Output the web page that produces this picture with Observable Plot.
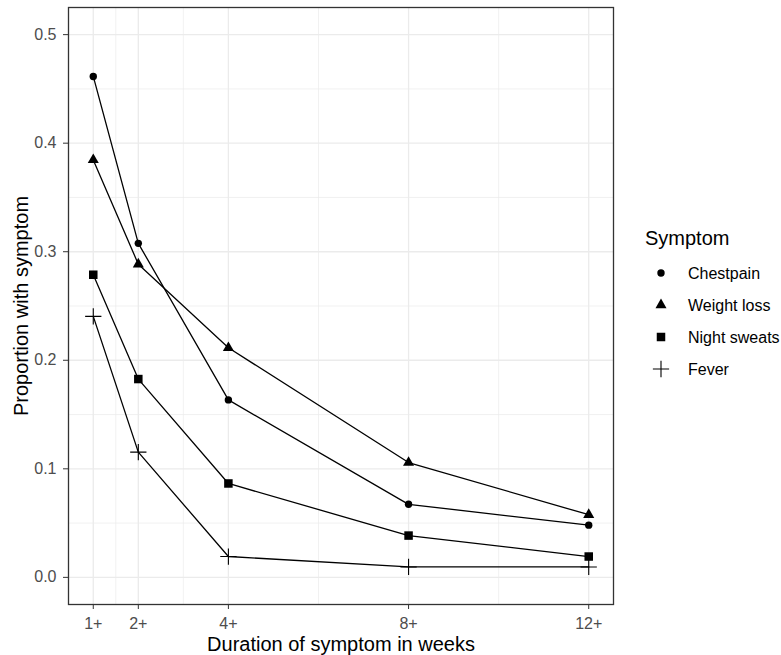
<!DOCTYPE html>
<html>
<head>
<meta charset="utf-8">
<script src="https://cdn.jsdelivr.net/npm/d3@7"></script>
<script src="https://cdn.jsdelivr.net/npm/@observablehq/plot@0.6"></script>
<style>
  html, body { margin: 0; padding: 0; background: #fff; }
  body { width: 781px; height: 655px; overflow: hidden; font-family: "Liberation Sans", Arial, sans-serif; }
  #wrap { position: relative; width: 781px; height: 655px; }
  #chart { position: absolute; left: 0; top: 0; }
  #legend { position: absolute; left: 0; top: 0; width: 781px; height: 655px; pointer-events: none; }
</style>
</head>
<body>
<div id="wrap">
  <div id="chart"></div>
  <div id="legend"></div>
</div>
<script>
// ---- data ----
const weeks = [1, 2, 4, 8, 12];
const weekLabels = ["1+", "2+", "4+", "8+", "12+"];
const symptoms = ["Chestpain", "Weight loss", "Night sweats", "Fever"];
const chestpain   = [0.4615, 0.3077, 0.1635, 0.0673, 0.0481];
const weightLoss  = [0.3846, 0.2885, 0.2115, 0.1058, 0.0577];
const nightSweats = [0.2788, 0.1827, 0.0865, 0.0385, 0.0192];
const fever       = [0.2404, 0.1154, 0.0192, 0.0096, 0.0096];
const yTicks = [0, 0.1, 0.2, 0.3, 0.4, 0.5];
const yMinor = [0.05, 0.15, 0.25, 0.35, 0.45];
const xMinor = [1.5, 3, 6, 10];

const seriesValues = [chestpain, weightLoss, nightSweats, fever];
const rows = [];
symptoms.forEach((s, i) => weeks.forEach((w, j) => rows.push({symptom: s, week: w, value: seriesValues[i][j]})));
const bySym = s => rows.filter(d => d.symptom === s);

const font = '"Liberation Sans", Arial, sans-serif';
const tickFont = 16;
const titleFont = 20;

const plot = Plot.plot({
  width: 625,
  height: 655,
  marginLeft: 68,
  marginRight: 12,
  marginTop: 7,
  marginBottom: 51,
  style: {fontFamily: font, fontSize: tickFont + "px", background: "#fff"},
  x: {type: "linear", domain: [0.45, 12.55]},
  y: {domain: [-0.025, 0.525]},
  marks: [
    Plot.ruleX(xMinor, {stroke: "#EBEBEB", strokeWidth: 0.7}),
    Plot.ruleY(yMinor, {stroke: "#EBEBEB", strokeWidth: 0.7}),
    Plot.ruleX(weeks, {stroke: "#EBEBEB", strokeWidth: 1.3}),
    Plot.ruleY(yTicks, {stroke: "#EBEBEB", strokeWidth: 1.3}),
    Plot.line(rows, {x: "week", y: "value", z: "symptom", stroke: "black", strokeWidth: 1.3}),
    Plot.dot(bySym("Chestpain"), {x: "week", y: "value", symbol: "circle", r: 3.7, fill: "black", stroke: "none"}),
    Plot.dot(bySym("Weight loss"), {x: "week", y: "value", symbol: "triangle", r: 4.1, fill: "black", stroke: "none"}),
    Plot.dot(bySym("Night sweats"), {x: "week", y: "value", symbol: "square", r: 4.8, fill: "black", stroke: "none"}),
    Plot.dot(bySym("Fever"), {x: "week", y: "value", symbol: "plus", r: 5.3, fill: "none", stroke: "black", strokeWidth: 1.1}),
    Plot.frame({stroke: "#333333", strokeWidth: 1.3}),
    Plot.axisX({
      ticks: weeks,
      tickFormat: d => weekLabels[weeks.indexOf(d)],
      tickSize: 5,
      tickPadding: 8,
      fontSize: tickFont,
      stroke: "#333333",
      fill: "#4D4D4D",
      label: "Duration of symptom in weeks",
      labelAnchor: "center",
      labelArrow: "none",
      labelOffset: 46
    }),
    Plot.axisY({
      ticks: yTicks,
      tickFormat: d3.format(".1f"),
      tickSize: 5,
      tickPadding: 7,
      fontSize: tickFont,
      stroke: "#333333",
      fill: "#4D4D4D",
      label: "Proportion with symptom",
      labelAnchor: "center",
      labelArrow: "none",
      labelOffset: 55
    })
  ]
});
document.getElementById("chart").appendChild(plot);

// style axis labels like ggplot titles
d3.select(plot).selectAll('g[aria-label="x-axis label"], g[aria-label="y-axis label"]')
  .attr("fill", "black").attr("font-size", titleFont);
d3.select(plot).selectAll('g[aria-label="x-axis label"] text, g[aria-label="y-axis label"] text')
  .attr("fill", "black").style("font-size", titleFont + "px");

// ---- legend ----
const legendShapes = [d3.symbolCircle, d3.symbolTriangle, d3.symbolSquare, d3.symbolPlus];
const legendSizes = [Math.PI * 3.7 * 3.7, Math.PI * 4.1 * 4.1, Math.PI * 4.8 * 4.8, Math.PI * 5.3 * 5.3];
const lg = d3.select("#legend").append("svg").attr("width", 781).attr("height", 655)
  .style("font-family", font);
lg.append("text").attr("x", 645).attr("y", 245).attr("font-size", titleFont).attr("fill", "black").text("Symptom");
symptoms.forEach((s, i) => {
  const cy = 273 + i * 32;
  const isPlus = i === 3;
  lg.append("path")
    .attr("transform", `translate(661,${cy})`)
    .attr("d", d3.symbol(legendShapes[i], legendSizes[i])())
    .attr("fill", isPlus ? "none" : "black")
    .attr("stroke", isPlus ? "black" : "none")
    .attr("stroke-width", isPlus ? 1.1 : 0);
  lg.append("text").attr("x", 688).attr("y", cy).attr("dy", "0.35em")
    .attr("font-size", tickFont).attr("fill", "black").text(s);
});
</script>
</body>
</html>
